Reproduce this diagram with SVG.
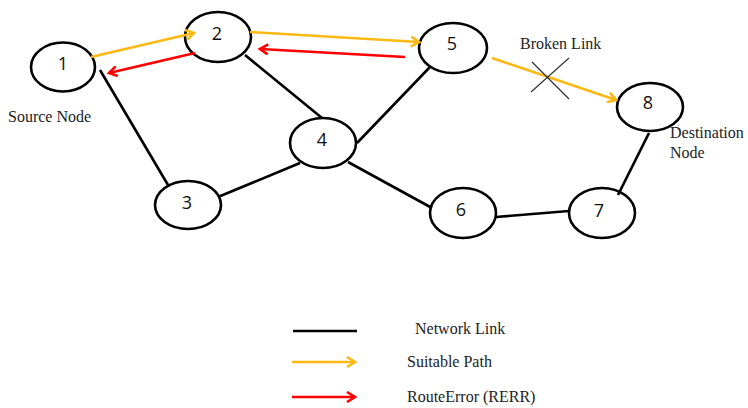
<svg xmlns="http://www.w3.org/2000/svg" width="748" height="408" viewBox="0 0 748 408">
<style>
.n ellipse{fill:#fff;stroke:#000;stroke-width:2.6}
.n text{font-family:"Open Sans","Liberation Sans",sans-serif;font-size:18px;text-anchor:middle;fill:#111}
.lk{stroke:#000;stroke-width:2.6;fill:none}
.y{stroke:#FDB913;stroke-width:2.6;fill:none;marker-end:url(#ay)}
.r{stroke:#FF0000;stroke-width:2.6;fill:none;marker-end:url(#ar)}
.t{font-family:"Liberation Serif",serif;font-size:16px;fill:#222}
</style>
<defs>
<marker id="ay" viewBox="0 0 12 12" refX="10" refY="6" markerWidth="12" markerHeight="12" markerUnits="userSpaceOnUse" orient="auto"><polyline points="2,1 10,6 2,11" fill="none" stroke="#FDB913" stroke-width="2.6"/></marker>
<marker id="ar" viewBox="0 0 12 12" refX="10" refY="6" markerWidth="12" markerHeight="12" markerUnits="userSpaceOnUse" orient="auto"><polyline points="2,1 10,6 2,11" fill="none" stroke="#FF0000" stroke-width="2.6"/></marker>
</defs>
<g id="node1" class="n"><ellipse cx="63" cy="67" rx="32" ry="24.5"/><text x="63" y="70">1</text></g>
<g id="node2" class="n"><ellipse cx="218" cy="37" rx="33" ry="25"/><text x="217" y="40">2</text></g>
<g id="node3" class="n"><ellipse cx="188" cy="205" rx="33" ry="24"/><text x="187" y="209">3</text></g>
<g id="node4" class="n"><ellipse cx="323" cy="143" rx="33" ry="25"/><text x="322" y="146">4</text></g>
<g id="node5" class="n"><ellipse cx="453" cy="48" rx="34" ry="25"/><text x="452" y="50">5</text></g>
<g id="node6" class="n"><ellipse cx="463" cy="213" rx="33" ry="25"/><text x="461" y="216">6</text></g>
<g id="node7" class="n"><ellipse cx="602" cy="213" rx="33" ry="25"/><text x="599" y="217">7</text></g>
<g id="node8" class="n"><ellipse cx="650" cy="107" rx="33" ry="24"/><text x="648" y="109">8</text></g>
<g id="connectors">
<line class="lk" x1="100" y1="70" x2="168" y2="185"/>
<line class="lk" x1="245" y1="55" x2="322" y2="118"/>
<line class="lk" x1="218" y1="197" x2="300" y2="163"/>
<line class="lk" x1="357" y1="143" x2="430" y2="67"/>
<line class="lk" x1="348" y1="162" x2="432" y2="208"/>
<line class="lk" x1="496" y1="217" x2="569" y2="211"/>
<line class="lk" x1="618" y1="195" x2="649" y2="133"/>
<line class="y" x1="91" y1="57" x2="194" y2="33"/>
<line class="r" x1="195" y1="53" x2="109" y2="73"/>
<line class="y" x1="250" y1="32" x2="419" y2="42"/>
<line class="r" x1="405" y1="57" x2="260" y2="49"/>
<line class="y" x1="492" y1="58" x2="616" y2="100"/>
<line x1="532" y1="62" x2="569" y2="99" stroke="#333" stroke-width="1.2"/>
<line x1="569" y1="58" x2="531" y2="92" stroke="#333" stroke-width="1.2"/>
</g>
<text class="t" x="8" y="122">Source Node</text>
<text class="t" x="520" y="49">Broken Link</text>
<text class="t" x="670" y="138">Destination</text>
<text class="t" x="670" y="158">Node</text>
<g id="legend">
<line x1="293" y1="331" x2="357" y2="331" stroke="#000" stroke-width="2.6"/>
<line class="y" x1="292" y1="362" x2="355" y2="362"/>
<line class="r" x1="292" y1="397" x2="355" y2="397"/>
<text class="t" x="415" y="334">Network Link</text>
<text class="t" x="407" y="367">Suitable Path</text>
<text class="t" x="407" y="402">RouteError (RERR)</text>
</g>
</svg>
